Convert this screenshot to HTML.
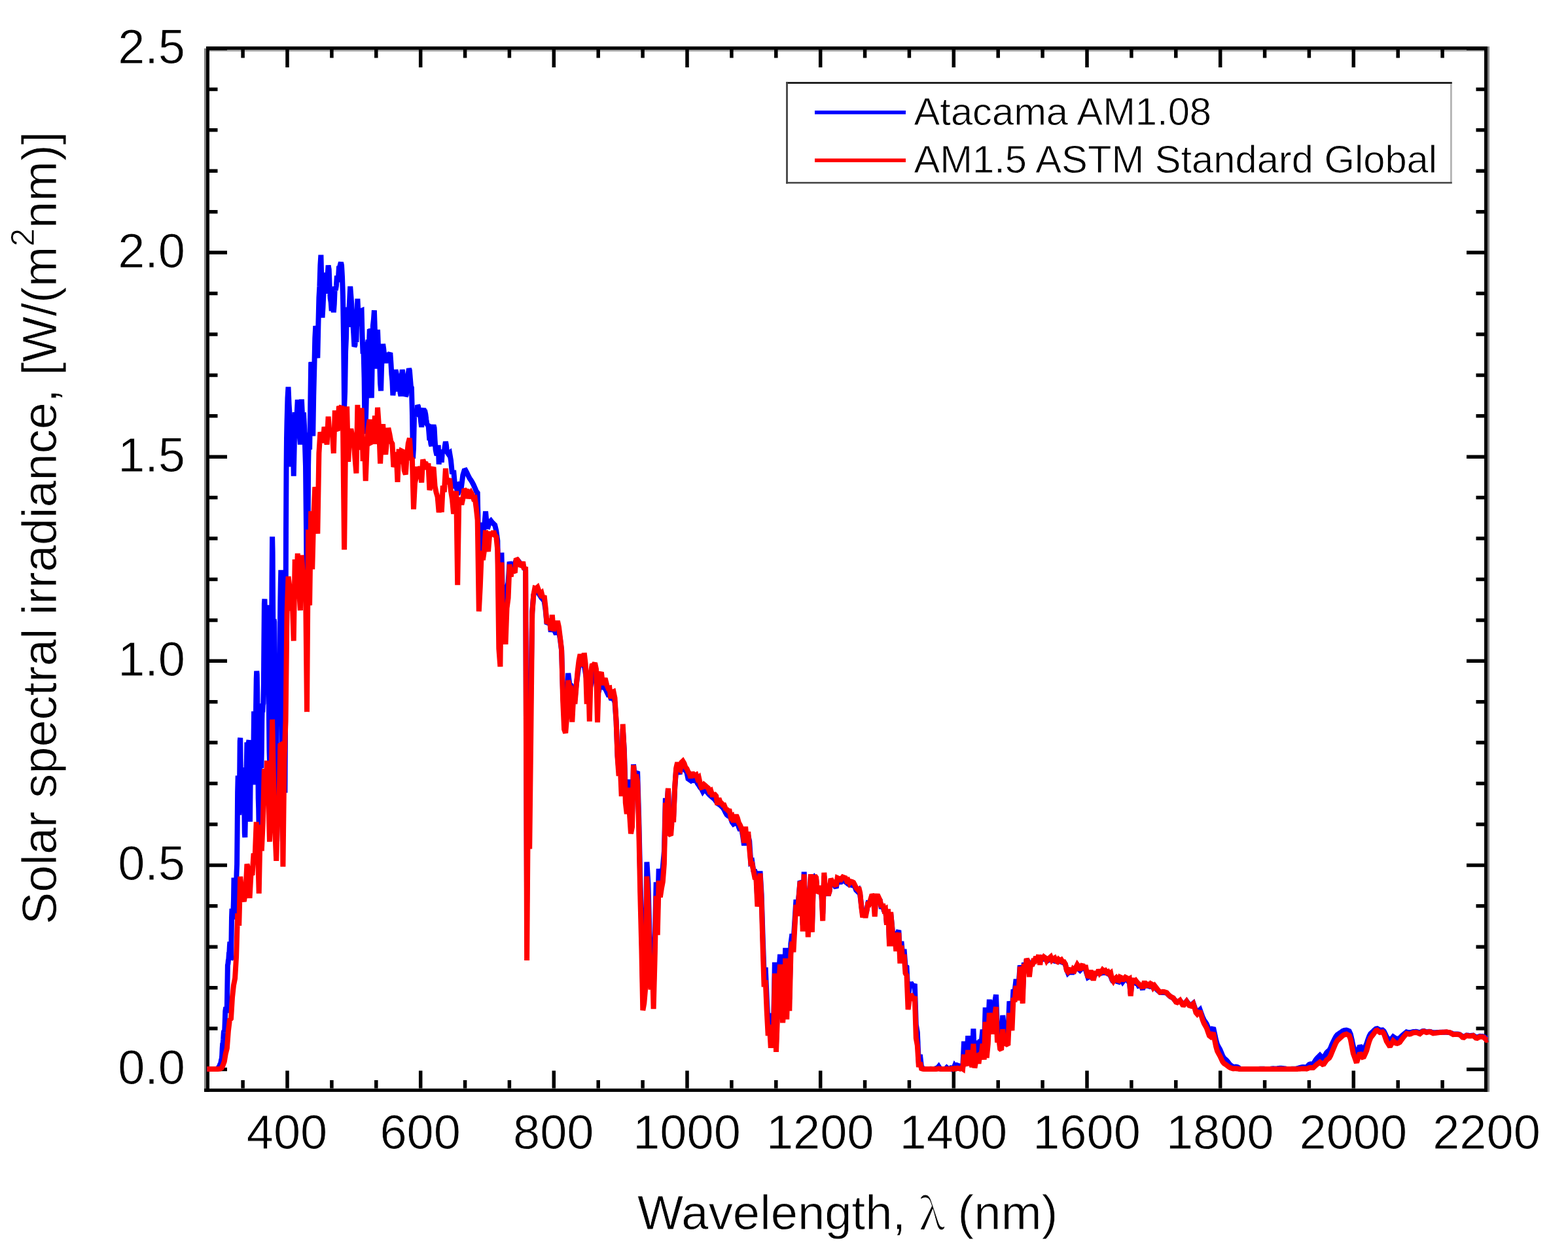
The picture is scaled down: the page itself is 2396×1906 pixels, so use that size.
<!DOCTYPE html>
<html><head><meta charset="utf-8"><title>Solar spectral irradiance</title><style>
html,body{margin:0;padding:0;background:#fff;}
body{width:2396px;height:1906px;overflow:hidden;}
svg{display:block;}
text{font-family:"Liberation Sans",Arial,sans-serif;fill:#000;stroke:#fff;stroke-width:0.8px;stroke-linejoin:round;}
</style></head><body>
<svg width="2396" height="1906" viewBox="0 0 2396 1906">
<rect width="2396" height="1906" fill="#fff"/>
<defs><clipPath id="pc"><rect x="312" y="71" width="1964" height="1598"/></clipPath></defs>
<rect x="315" y="71" width="5" height="1598" fill="#000"/><rect x="312" y="74" width="3" height="1595" fill="#808080"/><rect x="315" y="71" width="1958" height="5" fill="#000"/><rect x="320" y="76" width="1948" height="2.6" fill="#a0a0a0"/><rect x="2268" y="71" width="5" height="1598" fill="#000"/><rect x="2273" y="71" width="3" height="1598" fill="#888"/><rect x="312" y="1663.8" width="1961" height="5.1" fill="#000"/>
<path d="M439.0 1663.5V1636.5M439.0 76.0V103.0M642.7 1663.5V1636.5M642.7 76.0V103.0M846.3 1663.5V1636.5M846.3 76.0V103.0M1050.0 1663.5V1636.5M1050.0 76.0V103.0M1253.7 1663.5V1636.5M1253.7 76.0V103.0M1457.3 1663.5V1636.5M1457.3 76.0V103.0M1661.0 1663.5V1636.5M1661.0 76.0V103.0M1864.7 1663.5V1636.5M1864.7 76.0V103.0M2068.3 1663.5V1636.5M2068.3 76.0V103.0M371.1 1663.5V1651.0M371.1 76.0V88.5M506.9 1663.5V1651.0M506.9 76.0V88.5M574.8 1663.5V1651.0M574.8 76.0V88.5M710.6 1663.5V1651.0M710.6 76.0V88.5M778.4 1663.5V1651.0M778.4 76.0V88.5M914.2 1663.5V1651.0M914.2 76.0V88.5M982.1 1663.5V1651.0M982.1 76.0V88.5M1117.9 1663.5V1651.0M1117.9 76.0V88.5M1185.8 1663.5V1651.0M1185.8 76.0V88.5M1321.6 1663.5V1651.0M1321.6 76.0V88.5M1389.4 1663.5V1651.0M1389.4 76.0V88.5M1525.2 1663.5V1651.0M1525.2 76.0V88.5M1593.1 1663.5V1651.0M1593.1 76.0V88.5M1728.9 1663.5V1651.0M1728.9 76.0V88.5M1796.8 1663.5V1651.0M1796.8 76.0V88.5M1932.6 1663.5V1651.0M1932.6 76.0V88.5M2000.4 1663.5V1651.0M2000.4 76.0V88.5M2136.2 1663.5V1651.0M2136.2 76.0V88.5M2204.1 1663.5V1651.0M2204.1 76.0V88.5M320.0 1634.5H347.0M2268.0 1634.5H2241.0M320.0 1572.1H332.5M2268.0 1572.1H2255.5M320.0 1509.7H332.5M2268.0 1509.7H2255.5M320.0 1447.2H332.5M2268.0 1447.2H2255.5M320.0 1384.8H332.5M2268.0 1384.8H2255.5M320.0 1322.4H347.0M2268.0 1322.4H2241.0M320.0 1260.0H332.5M2268.0 1260.0H2255.5M320.0 1197.6H332.5M2268.0 1197.6H2255.5M320.0 1135.1H332.5M2268.0 1135.1H2255.5M320.0 1072.7H332.5M2268.0 1072.7H2255.5M320.0 1010.3H347.0M2268.0 1010.3H2241.0M320.0 947.9H332.5M2268.0 947.9H2255.5M320.0 885.5H332.5M2268.0 885.5H2255.5M320.0 823.0H332.5M2268.0 823.0H2255.5M320.0 760.6H332.5M2268.0 760.6H2255.5M320.0 698.2H347.0M2268.0 698.2H2241.0M320.0 635.8H332.5M2268.0 635.8H2255.5M320.0 573.4H332.5M2268.0 573.4H2255.5M320.0 510.9H332.5M2268.0 510.9H2255.5M320.0 448.5H332.5M2268.0 448.5H2255.5M320.0 386.1H347.0M2268.0 386.1H2241.0M320.0 323.7H332.5M2268.0 323.7H2255.5M320.0 261.3H332.5M2268.0 261.3H2255.5M320.0 198.8H332.5M2268.0 198.8H2255.5M320.0 136.4H332.5M2268.0 136.4H2255.5M320.0 74.0H347.0M2268.0 74.0H2241.0" stroke="#000" stroke-width="5.5" fill="none"/>
<g clip-path="url(#pc)" fill="none" stroke-width="8" stroke-linejoin="miter" stroke-miterlimit="2">
<polyline stroke="#0000ff" points="316.3,1634.0 316.8,1634.0 317.3,1634.0 317.8,1634.0 318.3,1634.0 318.8,1634.0 319.4,1634.0 319.9,1634.0 320.4,1634.0 320.9,1634.0 321.4,1634.0 321.9,1634.0 322.4,1634.0 322.9,1634.0 323.4,1634.0 323.9,1634.0 324.4,1634.0 325.0,1634.0 325.5,1634.0 326.0,1634.0 326.5,1634.0 327.0,1634.0 327.5,1634.0 328.0,1634.0 328.5,1634.0 329.0,1634.0 329.5,1633.9 330.0,1633.9 330.6,1633.8 331.1,1633.7 331.6,1633.6 332.1,1633.2 332.6,1632.9 333.1,1632.6 333.6,1632.3 334.1,1631.3 334.6,1630.4 335.1,1630.0 335.6,1629.1 336.2,1626.9 336.7,1626.3 337.2,1625.5 337.7,1622.5 338.2,1619.7 338.7,1618.8 339.2,1613.2 339.7,1602.3 340.2,1595.6 340.7,1594.8 341.2,1588.6 341.8,1578.2 342.3,1575.3 342.8,1578.1 343.3,1574.1 343.8,1560.4 344.3,1545.5 344.8,1542.1 345.3,1539.4 345.8,1547.2 346.3,1548.1 346.9,1536.2 347.4,1507.0 347.9,1475.3 348.4,1473.1 348.9,1467.6 349.4,1465.7 349.9,1457.1 350.4,1456.5 350.9,1446.1 351.4,1439.5 351.9,1441.6 352.5,1466.5 353.0,1465.6 353.5,1435.7 354.0,1402.7 354.5,1388.9 355.0,1401.9 355.5,1403.0 356.0,1388.9 356.5,1390.3 357.0,1374.9 357.5,1341.6 358.1,1345.9 358.6,1365.4 359.1,1383.7 359.6,1395.1 360.1,1405.3 360.6,1379.5 361.1,1350.3 361.6,1332.6 362.1,1321.1 362.6,1269.7 363.1,1211.4 363.7,1185.7 364.2,1195.7 364.7,1213.4 365.2,1245.6 365.7,1232.0 366.2,1183.6 366.7,1132.7 367.2,1127.7 367.7,1171.0 368.2,1202.2 368.7,1198.2 369.3,1188.8 369.8,1191.3 370.3,1204.2 370.8,1221.5 371.3,1213.8 371.8,1187.0 372.3,1173.1 372.8,1191.9 373.3,1236.6 373.8,1273.6 374.3,1279.9 374.9,1252.6 375.4,1216.9 375.9,1193.4 376.4,1180.9 376.9,1162.8 377.4,1134.6 377.9,1137.5 378.4,1168.8 378.9,1176.0 379.4,1156.3 379.9,1134.8 380.5,1131.2 381.0,1170.1 381.5,1238.5 382.0,1256.0 382.5,1208.4 383.0,1174.5 383.5,1177.8 384.0,1172.2 384.5,1168.4 385.0,1183.3 385.5,1188.4 386.1,1187.1 386.6,1199.3 387.1,1183.0 387.6,1129.3 388.1,1087.2 388.6,1097.8 389.1,1124.0 389.6,1147.3 390.1,1169.8 390.6,1139.4 391.1,1080.4 391.7,1038.1 392.2,1025.6 392.7,1030.8 393.2,1060.5 393.7,1107.6 394.2,1160.3 394.7,1220.0 395.2,1236.1 395.7,1267.9 396.2,1285.3 396.7,1217.2 397.3,1116.1 397.8,1075.3 398.3,1108.5 398.8,1158.4 399.3,1174.1 399.8,1148.1 400.3,1099.2 400.8,1080.0 401.3,1088.5 401.8,1077.8 402.3,1075.1 402.9,1044.9 403.4,977.3 403.9,922.4 404.4,915.6 404.9,932.9 405.4,959.5 405.9,1000.6 406.4,1008.6 406.9,975.7 407.4,926.9 408.0,924.9 408.5,980.6 409.0,984.6 409.5,974.5 410.0,1014.0 410.5,1056.3 411.0,1096.8 411.5,1148.1 412.0,1163.4 412.5,1159.2 413.0,1120.9 413.6,1064.0 414.1,1033.0 414.6,1019.2 415.1,964.5 415.6,879.0 416.1,820.4 416.6,844.0 417.1,929.7 417.6,995.2 418.1,982.9 418.6,946.6 419.2,950.5 419.7,1025.5 420.2,1128.9 420.7,1214.9 421.2,1266.2 421.7,1269.7 422.2,1213.7 422.7,1129.9 423.2,1076.6 423.7,1077.4 424.2,1087.8 424.8,1081.8 425.3,1078.7 425.8,1083.9 426.3,1087.4 426.8,1074.5 427.3,1028.7 427.8,968.3 428.3,922.6 428.8,893.3 429.3,871.3 429.8,888.3 430.4,971.5 430.9,1105.8 431.4,1235.0 431.9,1286.0 432.4,1229.3 432.9,1108.1 433.4,1004.1 433.9,983.9 434.4,1064.5 434.9,1176.3 435.4,1211.8 436.0,1123.2 436.5,962.9 437.0,813.6 437.5,718.2 438.0,670.0 438.5,645.3 439.5,608.3 440.5,591.4 441.6,617.7 442.6,634.0 443.6,664.5 444.6,700.2 445.6,713.3 446.6,679.2 447.7,666.1 448.7,727.7 449.7,683.1 450.7,630.0 451.7,645.2 452.8,654.8 453.8,630.2 454.8,610.9 455.8,632.1 456.8,660.1 457.8,667.1 458.9,679.4 459.9,624.3 460.9,610.5 461.9,632.7 462.9,638.0 464.0,630.4 465.0,650.8 466.0,680.5 467.0,712.6 468.0,808.4 469.0,939.7 470.1,919.9 471.1,711.2 472.1,661.4 473.1,687.1 474.1,631.3 475.2,553.5 476.2,555.3 477.2,639.9 478.2,666.5 479.2,605.6 480.3,561.9 481.3,516.8 482.3,498.1 483.3,505.9 484.3,521.4 485.3,547.4 486.4,495.3 487.4,455.1 488.4,437.5 489.4,405.7 490.4,389.7 491.5,435.1 492.5,485.5 493.5,469.6 494.5,447.6 495.5,423.9 496.5,416.8 497.6,433.0 498.6,447.6 499.6,445.6 500.6,421.8 501.6,405.6 502.7,411.6 503.7,438.4 504.7,456.0 505.7,462.2 506.7,475.3 507.7,461.3 508.8,459.8 509.8,477.4 510.8,464.3 511.8,438.0 512.8,443.7 513.9,436.8 514.9,421.6 515.9,430.6 516.9,426.1 517.9,409.3 518.9,408.8 520.0,404.0 521.0,401.2 522.0,405.6 523.0,423.2 524.0,453.9 525.1,523.5 526.1,623.9 527.1,598.1 528.1,537.3 529.1,514.8 530.1,469.5 531.2,478.3 532.2,499.9 533.2,477.1 534.2,458.3 535.2,437.7 536.3,452.1 537.3,465.1 538.3,483.2 539.3,495.6 540.3,509.7 541.4,529.8 542.4,527.7 543.4,514.3 544.4,522.8 545.4,485.1 546.4,456.7 547.5,479.9 548.5,498.3 549.5,486.4 550.5,485.7 551.5,475.3 552.6,474.8 553.6,515.1 554.6,540.6 555.6,538.1 556.6,578.9 557.6,663.3 558.7,649.0 559.7,614.1 560.7,559.6 561.7,525.1 562.7,519.7 563.8,529.6 564.8,503.5 565.8,504.4 566.8,557.1 567.8,608.3 568.8,552.3 569.9,497.6 570.9,488.8 571.9,474.3 572.9,505.4 573.9,563.4 575.0,550.2 576.0,516.2 577.0,503.8 578.0,529.2 579.0,530.8 580.0,549.3 581.1,585.9 582.1,597.5 583.1,561.0 584.1,538.6 585.1,525.8 586.2,533.0 587.2,543.1 588.2,546.8 589.2,554.9 590.2,547.2 591.2,545.2 592.3,543.1 593.3,539.1 594.3,546.2 595.3,540.9 596.3,539.2 597.4,555.0 598.4,572.1 599.4,582.3 600.4,604.3 601.4,593.9 602.5,568.0 603.5,571.4 604.5,565.5 605.5,569.4 606.5,583.5 607.5,598.5 608.6,577.1 609.6,571.2 610.6,587.9 611.6,601.0 612.6,605.5 613.7,581.3 614.7,565.1 615.7,571.8 616.7,589.7 617.7,596.7 618.7,595.2 619.8,605.7 620.8,603.6 621.8,591.9 622.8,582.6 623.8,571.0 624.9,563.2 625.9,566.2 626.9,578.8 627.9,590.7 628.9,592.5 629.9,630.6 631.0,701.1 632.0,685.1 633.0,637.1 634.0,633.9 635.0,626.6 636.1,631.1 637.1,637.0 638.1,619.2 639.1,621.2 640.1,628.2 641.1,633.6 642.2,635.0 643.2,645.2 644.2,652.8 645.2,640.9 646.2,627.1 647.3,624.9 648.3,627.5 649.3,628.5 650.3,633.1 651.3,641.1 652.3,647.8 653.4,649.5 654.4,648.4 655.4,660.3 656.4,673.0 657.4,670.0 658.5,678.9 659.5,681.8 660.5,665.0 661.5,653.1 662.5,649.6 663.6,654.2 664.6,672.9 665.6,687.3 666.6,692.3 667.6,695.9 668.6,692.2 669.7,680.4 670.7,709.7 671.7,689.9 672.7,699.8 673.7,700.0 674.8,706.7 675.8,692.5 676.8,687.6 677.8,689.7 678.8,690.7 679.8,681.7 680.9,675.1 681.9,680.4 682.9,690.5 684.9,693.5 687.0,692.0 689.0,703.9 691.0,724.4 693.1,718.9 695.1,742.1 697.2,741.4 699.2,755.8 701.2,751.6 703.3,741.0 705.3,741.9 707.3,726.4 709.4,719.4 711.4,718.8 713.4,722.5 715.5,727.1 717.5,730.9 719.6,734.0 721.6,737.3 723.6,741.1 725.7,745.8 727.7,750.6 729.7,753.3 731.8,863.7 733.8,840.3 735.9,798.8 737.9,815.1 739.9,806.6 742.0,781.7 744.0,804.0 746.0,804.7 748.1,797.7 750.1,795.9 752.1,798.4 754.2,800.6 756.2,802.6 758.3,811.3 760.3,826.3 762.3,933.1 764.4,953.3 766.4,844.7 768.4,927.7 770.5,913.8 772.5,935.9 774.5,900.0 776.6,890.0 778.6,858.8 780.7,865.6 782.7,860.7 784.7,863.9 786.8,860.4 788.8,856.9 790.8,855.9 792.9,858.3 794.9,861.6 797.0,863.7 799.0,865.2 801.0,867.8 803.1,871.8 805.1,1379.8 807.1,1131.4 809.2,1219.8 811.2,1062.8 813.2,934.9 815.3,909.4 817.3,902.8 819.4,903.4 821.4,904.7 823.4,907.4 825.5,910.8 827.5,913.9 829.5,915.9 831.6,918.9 833.6,932.2 835.6,954.0 837.7,951.7 839.7,946.1 841.8,965.9 843.8,950.6 845.8,960.7 847.9,965.4 849.9,969.4 851.9,962.0 854.0,965.6 856.0,977.2 858.1,994.1 860.1,1058.7 862.1,1095.3 864.2,1099.7 866.2,1080.5 868.2,1029.0 870.3,1044.8 872.3,1047.2 874.3,1092.7 876.4,1054.7 878.4,1070.0 880.5,1046.9 882.5,1032.7 884.5,1017.3 886.6,1009.4 888.6,1013.7 890.6,1016.6 892.7,1017.0 894.7,1028.8 896.7,1041.0 898.8,1052.0 900.8,1057.6 902.9,1046.3 904.9,1030.9 906.9,1024.6 909.0,1027.6 911.0,1041.4 913.0,1057.1 915.1,1055.9 917.1,1047.6 919.2,1046.2 921.2,1049.7 923.2,1051.5 925.3,1053.4 927.3,1057.8 929.3,1061.9 931.4,1061.6 933.4,1067.2 935.4,1067.5 937.5,1067.7 939.5,1073.6 941.6,1102.2 943.6,1155.1 945.6,1177.6 947.7,1164.8 949.7,1191.8 951.7,1113.8 953.8,1144.8 955.8,1212.8 957.8,1228.1 959.9,1191.4 961.9,1229.3 964.0,1256.7 966.0,1247.1 968.0,1168.3 970.1,1188.1 972.1,1181.7 974.1,1179.2 976.2,1250.8 978.2,1338.9 980.3,1416.8 982.3,1518.8 984.3,1505.9 986.4,1482.1 988.4,1317.6 990.4,1349.8 992.5,1426.3 994.5,1485.9 996.5,1435.5 998.6,1517.0 1000.6,1439.8 1002.7,1348.3 1004.7,1403.2 1006.7,1327.8 1008.8,1349.3 1010.8,1337.7 1012.8,1325.7 1014.9,1301.3 1016.9,1219.8 1018.9,1233.1 1021.0,1205.4 1023.0,1260.3 1025.1,1268.1 1027.1,1244.2 1029.1,1248.8 1031.2,1203.7 1033.2,1176.4 1035.2,1170.5 1037.3,1180.4 1039.3,1180.1 1041.4,1171.4 1043.4,1172.1 1045.4,1175.1 1047.5,1177.7 1049.5,1180.9 1051.5,1190.3 1053.6,1191.8 1055.6,1193.2 1057.6,1191.1 1059.7,1192.8 1061.7,1192.3 1063.8,1193.4 1065.8,1197.4 1067.8,1200.1 1069.9,1203.5 1071.9,1205.7 1073.9,1209.7 1076.0,1206.7 1078.0,1208.6 1080.0,1210.0 1082.1,1212.7 1084.1,1214.8 1086.2,1216.8 1088.2,1218.5 1090.2,1220.2 1092.3,1222.2 1094.3,1225.1 1096.3,1228.0 1098.4,1229.1 1100.4,1230.6 1102.5,1232.5 1104.5,1234.6 1106.5,1237.5 1108.6,1241.8 1110.6,1245.4 1112.6,1246.9 1114.7,1247.8 1116.7,1250.9 1118.7,1256.7 1120.8,1259.6 1122.8,1258.5 1124.9,1255.0 1126.9,1256.3 1128.9,1264.3 1131.0,1269.1 1133.0,1265.5 1135.0,1277.6 1137.1,1292.3 1139.1,1269.1 1141.1,1289.1 1143.2,1276.8 1145.2,1285.5 1147.3,1318.2 1149.3,1316.9 1151.3,1330.3 1153.4,1331.2 1155.4,1337.0 1157.4,1374.8 1159.5,1364.7 1161.5,1331.5 1163.6,1366.6 1165.6,1431.3 1167.6,1488.2 1169.7,1478.6 1171.7,1525.8 1173.7,1567.1 1175.8,1548.7 1177.8,1587.7 1179.8,1555.2 1181.9,1574.5 1183.9,1470.8 1186.0,1596.1 1188.0,1536.3 1190.0,1486.7 1192.1,1458.7 1194.1,1477.2 1196.1,1545.0 1198.2,1517.7 1200.2,1448.8 1202.2,1540.2 1204.3,1461.8 1206.3,1527.3 1208.4,1442.6 1210.4,1427.6 1212.4,1439.6 1214.5,1406.0 1216.5,1375.0 1218.5,1388.6 1220.6,1369.8 1222.6,1346.6 1224.7,1349.7 1226.7,1414.1 1228.7,1332.5 1230.8,1399.9 1232.8,1359.2 1234.8,1423.0 1236.9,1368.7 1238.9,1340.2 1240.9,1416.0 1243.0,1345.7 1245.0,1341.4 1247.1,1343.9 1249.1,1364.0 1251.1,1359.7 1253.2,1356.2 1255.2,1364.6 1257.2,1396.7 1259.3,1339.3 1261.3,1362.8 1263.3,1355.6 1265.4,1368.9 1267.4,1362.5 1269.5,1345.6 1271.5,1349.3 1273.5,1350.5 1275.6,1353.9 1277.6,1357.2 1279.6,1347.1 1281.7,1346.1 1283.7,1350.6 1285.8,1345.4 1287.8,1345.4 1289.8,1346.5 1291.9,1347.9 1293.9,1349.5 1295.9,1351.1 1298.0,1352.4 1300.0,1352.4 1302.0,1353.2 1304.1,1353.6 1306.1,1354.8 1308.2,1360.6 1310.2,1362.5 1312.2,1360.6 1314.3,1368.3 1316.3,1384.5 1318.3,1398.4 1320.4,1394.0 1322.4,1398.0 1324.4,1391.7 1326.5,1379.9 1328.5,1380.0 1330.6,1376.4 1332.6,1372.4 1334.6,1379.0 1336.7,1379.9 1338.7,1379.4 1340.7,1373.2 1342.8,1375.6 1344.8,1376.6 1346.9,1388.9 1348.9,1382.3 1350.9,1392.9 1353.0,1389.2 1355.0,1412.4 1357.0,1390.6 1359.1,1439.1 1361.1,1395.9 1363.1,1415.4 1365.2,1440.5 1367.2,1423.6 1369.3,1449.1 1371.3,1426.7 1373.3,1421.9 1375.4,1463.2 1377.4,1438.9 1379.4,1460.6 1381.5,1450.8 1383.5,1476.1 1385.5,1477.9 1387.6,1523.5 1389.6,1511.1 1391.7,1501.8 1393.7,1504.9 1395.7,1508.6 1397.8,1504.0 1399.8,1566.1 1401.8,1577.6 1403.9,1625.4 1405.9,1612.0 1408.0,1630.2 1410.0,1632.8 1412.0,1633.7 1414.1,1633.9 1416.1,1634.0 1418.1,1634.0 1420.2,1634.0 1422.2,1633.8 1424.2,1634.0 1426.3,1634.0 1428.3,1633.9 1430.4,1632.9 1432.4,1632.6 1434.4,1630.1 1436.5,1633.4 1438.5,1633.9 1440.5,1634.0 1442.6,1633.9 1444.6,1633.9 1446.6,1631.8 1448.7,1633.7 1450.7,1633.4 1452.8,1634.0 1454.8,1629.9 1456.8,1634.0 1458.9,1628.7 1460.9,1631.2 1462.9,1628.3 1465.0,1629.1 1467.0,1632.0 1469.0,1627.1 1471.1,1632.3 1473.1,1591.6 1475.2,1612.8 1477.2,1619.0 1479.2,1583.2 1481.3,1609.2 1483.3,1598.7 1485.3,1624.4 1487.4,1572.3 1489.4,1627.8 1491.5,1605.5 1493.5,1590.5 1495.5,1613.8 1497.6,1589.1 1499.6,1592.5 1501.6,1573.7 1503.7,1604.4 1505.7,1539.9 1507.7,1600.7 1509.8,1573.7 1511.8,1527.7 1513.9,1556.3 1515.9,1529.1 1517.9,1559.1 1520.0,1532.0 1522.0,1520.3 1524.0,1572.5 1526.1,1564.9 1528.1,1584.5 1530.1,1586.6 1532.2,1551.9 1534.2,1571.6 1536.3,1574.9 1538.3,1577.5 1540.3,1579.1 1542.4,1530.5 1544.4,1539.8 1546.4,1550.3 1548.5,1512.5 1550.5,1515.8 1552.6,1496.8 1554.6,1512.4 1556.6,1504.2 1558.7,1475.5 1560.7,1485.6 1562.7,1520.5 1564.8,1471.4 1566.8,1478.8 1568.8,1466.2 1570.9,1469.2 1572.9,1485.9 1575.0,1472.0 1577.0,1475.7 1579.0,1469.9 1581.1,1467.8 1583.1,1464.5 1585.1,1468.9 1587.2,1463.6 1589.2,1468.2 1591.2,1464.4 1593.3,1465.8 1595.3,1465.9 1597.4,1464.8 1599.4,1467.1 1601.4,1468.1 1603.5,1467.1 1605.5,1466.4 1607.5,1466.7 1609.6,1467.4 1611.6,1469.0 1613.7,1469.2 1615.7,1469.7 1617.7,1469.6 1619.8,1469.5 1621.8,1470.3 1623.8,1471.0 1625.9,1471.9 1627.9,1474.0 1629.9,1482.0 1632.0,1487.4 1634.0,1485.6 1636.1,1484.4 1638.1,1488.2 1640.1,1484.6 1642.2,1481.3 1644.2,1478.6 1646.2,1478.8 1648.3,1481.3 1650.3,1483.1 1652.3,1481.0 1654.4,1478.7 1656.4,1479.1 1658.5,1480.8 1660.5,1487.9 1662.5,1493.9 1664.6,1492.7 1666.6,1485.1 1668.6,1493.4 1670.7,1493.2 1672.7,1490.8 1674.8,1488.1 1676.8,1487.6 1678.8,1487.4 1680.9,1487.6 1682.9,1487.5 1684.9,1486.8 1687.0,1486.5 1689.0,1486.7 1691.0,1487.1 1693.1,1488.4 1695.1,1489.3 1697.2,1492.0 1699.2,1497.5 1701.2,1500.9 1703.3,1497.0 1705.3,1495.9 1707.3,1500.2 1709.4,1500.8 1711.4,1496.4 1713.4,1497.2 1715.5,1500.8 1717.5,1498.1 1719.6,1496.1 1721.6,1496.6 1723.6,1499.3 1725.7,1498.4 1727.7,1519.9 1729.7,1500.2 1731.8,1499.9 1733.8,1500.7 1735.9,1502.8 1737.9,1502.7 1739.9,1506.9 1742.0,1506.4 1744.0,1506.7 1746.0,1512.6 1748.1,1504.5 1750.1,1505.0 1752.1,1506.4 1754.2,1507.0 1756.2,1507.6 1758.3,1505.4 1760.3,1506.8 1762.3,1510.0 1764.4,1508.4 1766.4,1510.9 1768.4,1513.1 1770.5,1515.1 1772.5,1516.7 1774.5,1516.9 1776.6,1516.8 1778.6,1517.0 1780.7,1517.3 1782.7,1517.8 1784.7,1519.9 1786.8,1522.0 1788.8,1523.5 1790.8,1524.5 1792.9,1525.9 1794.9,1528.3 1797.0,1530.5 1799.0,1531.2 1801.0,1530.5 1803.1,1529.7 1805.1,1531.9 1807.1,1534.6 1809.2,1534.9 1811.2,1532.7 1813.2,1530.3 1815.3,1533.1 1817.3,1535.9 1819.4,1536.5 1821.4,1535.0 1823.4,1533.4 1825.5,1539.3 1827.5,1545.2 1829.5,1547.1 1831.6,1545.1 1833.6,1543.3 1835.6,1548.9 1837.7,1554.6 1839.7,1559.0 1841.8,1562.0 1843.8,1565.1 1845.8,1570.1 1847.9,1575.2 1849.9,1576.3 1851.9,1573.4 1854.0,1570.5 1856.0,1579.8 1858.1,1589.6 1860.1,1596.6 1862.1,1600.3 1864.2,1604.1 1866.2,1608.8 1868.2,1613.8 1870.3,1617.3 1872.3,1619.0 1874.3,1620.8 1876.4,1623.2 1878.4,1626.0 1880.5,1628.2 1882.5,1629.5 1884.5,1631.1 1886.6,1630.8 1888.6,1630.5 1890.6,1630.8 1892.7,1631.9 1894.7,1633.9 1896.7,1633.9 1898.8,1633.9 1900.8,1633.9 1902.9,1633.9 1904.9,1634.0 1906.9,1633.9 1909.0,1633.9 1911.0,1633.9 1913.0,1633.9 1915.1,1633.9 1917.1,1633.9 1919.2,1634.0 1921.2,1633.9 1923.2,1633.9 1925.3,1633.8 1927.3,1633.8 1929.3,1633.8 1931.4,1633.8 1933.4,1633.9 1935.4,1634.0 1937.5,1634.0 1939.5,1634.0 1941.6,1633.8 1943.6,1633.5 1945.6,1633.3 1947.7,1633.4 1949.7,1633.5 1951.7,1633.3 1953.8,1633.0 1955.8,1632.7 1957.8,1632.8 1959.9,1633.0 1961.9,1633.2 1964.0,1633.5 1966.0,1634.0 1968.0,1634.0 1970.1,1634.0 1972.1,1633.9 1974.1,1633.8 1976.2,1633.7 1978.2,1633.7 1980.3,1633.7 1982.3,1633.2 1984.3,1632.5 1986.4,1631.9 1988.4,1631.4 1990.4,1630.9 1992.5,1630.9 1994.5,1631.3 1996.5,1631.7 1998.6,1629.0 2000.6,1627.0 2002.7,1626.2 2004.7,1626.4 2006.7,1626.7 2008.8,1622.8 2010.8,1619.6 2012.8,1617.1 2014.9,1615.0 2016.9,1613.0 2018.9,1615.2 2021.0,1617.6 2023.0,1616.6 2025.1,1612.5 2027.1,1608.9 2029.1,1607.0 2031.2,1605.2 2033.2,1601.7 2035.2,1596.7 2037.3,1592.2 2039.3,1588.0 2041.4,1584.2 2043.4,1581.6 2045.4,1580.2 2047.5,1578.8 2049.5,1577.5 2051.5,1576.1 2053.6,1575.2 2055.6,1574.8 2057.6,1574.5 2059.7,1575.3 2061.7,1576.1 2063.8,1580.7 2065.8,1589.4 2067.8,1599.0 2069.9,1604.8 2071.9,1611.3 2073.9,1611.1 2076.0,1604.3 2078.0,1598.2 2080.0,1601.4 2082.1,1604.7 2084.1,1604.1 2086.2,1599.7 2088.2,1595.5 2090.2,1589.4 2092.3,1583.7 2094.3,1580.0 2096.3,1578.1 2098.4,1576.2 2100.4,1574.3 2102.5,1572.5 2104.5,1572.2 2106.5,1573.4 2108.6,1574.5 2110.6,1574.4 2112.6,1574.3 2114.7,1576.2 2116.7,1580.3 2118.7,1584.7 2120.8,1587.3 2122.8,1589.9 2124.9,1589.9 2126.9,1587.2 2128.9,1584.6 2131.0,1586.0 2133.0,1587.5 2135.0,1587.9 2137.1,1587.2 2139.1,1586.5 2141.1,1584.4 2143.2,1582.3 2145.2,1580.5 2147.3,1579.0 2149.3,1577.4 2151.3,1577.8 2153.4,1578.2 2155.4,1578.1 2157.4,1577.5 2159.5,1577.0 2161.5,1576.9 2163.6,1576.8 2165.6,1577.1 2167.6,1577.8 2169.7,1578.5 2171.7,1577.3 2173.7,1576.2 2175.8,1575.9 2177.8,1576.6 2179.8,1577.2 2181.9,1577.0 2183.9,1576.7 2186.0,1577.0 2188.0,1577.7 2190.0,1578.4 2192.1,1578.3 2194.1,1578.2 2196.1,1578.0 2198.2,1577.9 2200.2,1577.8 2202.2,1577.8 2204.3,1577.8 2206.3,1577.7 2208.4,1577.7 2210.4,1577.7 2212.4,1577.9 2214.5,1578.1 2216.5,1578.7 2218.5,1579.5 2220.6,1580.4 2222.6,1580.4 2224.7,1580.4 2226.7,1580.6 2228.7,1580.8 2230.8,1581.4 2232.8,1582.7 2234.8,1584.1 2236.9,1584.4 2238.9,1583.6 2240.9,1582.6 2243.0,1582.6 2245.0,1582.9 2247.1,1582.9 2249.1,1582.7 2251.1,1582.5 2253.2,1583.8 2255.2,1585.0 2257.2,1585.3 2259.3,1584.6 2261.3,1583.8 2263.3,1584.0 2265.4,1584.0 2267.4,1584.7 2269.5,1586.0 2271.5,1587.5 2273.5,1587.1"/>
<polyline stroke="#ff0000" points="316.3,1634.0 318.3,1634.0 320.4,1634.0 322.4,1634.0 324.4,1634.0 326.5,1634.0 328.5,1634.0 330.6,1634.0 332.6,1634.0 334.6,1633.8 336.7,1633.4 338.7,1632.2 340.7,1628.1 342.8,1622.4 344.8,1610.4 346.9,1602.2 348.9,1575.7 350.9,1559.3 353.0,1556.9 355.0,1524.2 357.0,1505.9 359.1,1495.4 361.1,1462.1 363.1,1396.1 365.2,1414.8 367.2,1339.8 369.3,1361.7 371.3,1375.0 373.3,1374.8 375.4,1363.0 377.4,1320.8 379.4,1328.6 381.5,1372.8 383.5,1335.8 385.5,1337.4 387.6,1304.4 389.6,1310.7 391.7,1256.4 393.7,1288.3 395.7,1365.6 397.8,1260.6 399.8,1300.6 401.8,1255.6 403.9,1175.0 405.9,1217.3 408.0,1162.7 410.0,1213.0 412.0,1286.7 414.1,1212.8 416.1,1099.7 418.1,1196.6 420.2,1267.7 422.2,1315.9 424.2,1246.4 426.3,1237.1 428.3,1136.5 430.4,1137.8 432.4,1324.6 434.4,1161.8 436.5,1101.9 438.5,938.6 440.5,881.2 442.6,897.4 444.6,933.2 446.6,915.3 448.7,979.5 450.7,855.1 452.8,894.8 454.8,846.0 456.8,898.9 458.9,932.9 460.9,848.6 462.9,877.7 465.0,876.5 467.0,895.0 469.0,1088.1 471.1,809.6 473.1,925.4 475.2,781.4 477.2,870.1 479.2,791.4 481.3,744.5 483.3,754.9 485.3,815.8 487.4,692.6 489.4,660.6 491.5,667.6 493.5,676.8 495.5,652.5 497.6,665.6 499.6,679.5 501.6,636.8 503.7,663.7 505.7,655.7 507.7,659.1 509.8,692.9 511.8,627.4 513.9,655.8 515.9,658.3 517.9,620.9 520.0,624.0 522.0,620.5 524.0,651.9 526.1,840.3 528.1,671.9 530.1,621.3 532.2,705.9 534.2,664.9 536.3,655.5 538.3,665.9 540.3,669.5 542.4,699.8 544.4,723.5 546.4,618.8 548.5,687.4 550.5,667.7 552.6,623.7 554.6,704.9 556.6,669.3 558.7,735.0 560.7,683.0 562.7,654.6 564.8,641.2 566.8,676.4 568.8,675.4 570.9,669.9 572.9,635.4 575.0,678.8 577.0,622.9 579.0,651.6 581.1,708.6 583.1,665.8 585.1,648.3 587.2,679.5 589.2,694.6 591.2,672.8 593.3,654.2 595.3,663.4 597.4,674.9 599.4,678.3 601.4,713.9 603.5,707.3 605.5,691.1 607.5,736.8 609.6,686.5 611.6,709.2 613.7,689.3 615.7,690.3 617.7,719.3 619.8,725.2 621.8,696.5 623.8,677.7 625.9,669.7 627.9,700.6 629.9,701.8 632.0,778.3 634.0,738.0 636.1,729.5 638.1,713.6 640.1,722.2 642.2,713.1 644.2,737.6 646.2,702.6 648.3,708.8 650.3,706.3 652.3,717.3 654.4,708.2 656.4,749.1 658.5,740.8 660.5,718.7 662.5,714.0 664.6,743.3 666.6,752.8 668.6,759.4 670.7,783.2 672.7,764.9 674.8,782.7 676.8,742.4 678.8,752.1 680.9,716.0 682.9,738.9 684.9,736.7 687.0,731.3 689.0,750.8 691.0,763.1 693.1,785.5 695.1,768.2 697.2,750.6 699.2,894.3 701.2,769.2 703.3,760.6 705.3,771.4 707.3,762.2 709.4,747.4 711.4,750.8 713.4,747.9 715.5,761.9 717.5,755.5 719.6,752.6 721.6,756.0 723.6,762.1 725.7,761.3 727.7,776.4 729.7,795.2 731.8,934.5 733.8,896.1 735.9,842.0 737.9,856.0 739.9,842.3 742.0,810.6 744.0,833.6 746.0,842.9 748.1,817.7 750.1,813.6 752.1,819.5 754.2,811.6 756.2,818.1 758.3,820.7 760.3,840.3 762.3,991.3 764.4,1018.9 766.4,859.6 768.4,975.2 770.5,959.1 772.5,984.8 774.5,929.6 776.6,914.0 778.6,862.7 780.7,881.3 782.7,868.2 784.7,872.8 786.8,875.4 788.8,853.6 790.8,855.6 792.9,859.9 794.9,863.7 797.0,864.4 799.0,858.7 801.0,870.5 803.1,866.5 805.1,1467.9 807.1,1204.8 809.2,1297.7 811.2,1125.5 813.2,938.8 815.3,909.4 817.3,898.8 819.4,899.3 821.4,897.6 823.4,902.9 825.5,907.7 827.5,906.1 829.5,913.9 831.6,910.4 833.6,928.3 835.6,953.0 837.7,950.3 839.7,949.1 841.8,963.5 843.8,939.8 845.8,964.5 847.9,956.4 849.9,961.0 851.9,949.0 854.0,958.6 856.0,974.9 858.1,993.1 860.1,1070.0 862.1,1114.6 864.2,1120.5 866.2,1096.0 868.2,1040.0 870.3,1050.3 872.3,1051.1 874.3,1103.6 876.4,1062.2 878.4,1075.8 880.5,1050.9 882.5,1027.1 884.5,1010.4 886.6,1000.0 888.6,1011.7 890.6,1018.3 892.7,998.1 894.7,1014.7 896.7,1076.1 898.8,1029.0 900.8,1102.7 902.9,1026.5 904.9,1014.8 906.9,1017.2 909.0,1013.2 911.0,1022.8 913.0,1104.1 915.1,1035.3 917.1,1030.1 919.2,1030.5 921.2,1047.0 923.2,1039.3 925.3,1039.5 927.3,1047.5 929.3,1052.0 931.4,1051.6 933.4,1067.5 935.4,1058.3 937.5,1057.3 939.5,1066.7 941.6,1102.6 943.6,1158.0 945.6,1185.9 947.7,1170.5 949.7,1217.1 951.7,1106.8 953.8,1149.9 955.8,1226.9 957.8,1244.1 959.9,1204.0 961.9,1242.9 964.0,1274.2 966.0,1264.0 968.0,1169.5 970.1,1196.9 972.1,1183.6 974.1,1195.0 976.2,1265.9 978.2,1364.3 980.3,1446.2 982.3,1544.2 984.3,1533.2 986.4,1508.8 988.4,1339.5 990.4,1381.0 992.5,1455.6 994.5,1512.5 996.5,1462.8 998.6,1542.1 1000.6,1466.1 1002.7,1369.3 1004.7,1429.1 1006.7,1346.2 1008.8,1371.4 1010.8,1358.3 1012.8,1347.7 1014.9,1320.2 1016.9,1227.0 1018.9,1237.9 1021.0,1204.8 1023.0,1274.9 1025.1,1277.0 1027.1,1250.1 1029.1,1256.6 1031.2,1201.9 1033.2,1173.8 1035.2,1165.3 1037.3,1175.5 1039.3,1176.9 1041.4,1165.2 1043.4,1163.3 1045.4,1166.6 1047.5,1172.8 1049.5,1175.0 1051.5,1179.6 1053.6,1182.5 1055.6,1189.2 1057.6,1180.3 1059.7,1185.1 1061.7,1185.3 1063.8,1184.2 1065.8,1190.0 1067.8,1188.2 1069.9,1197.7 1071.9,1203.5 1073.9,1202.9 1076.0,1199.3 1078.0,1200.9 1080.0,1203.0 1082.1,1204.6 1084.1,1209.5 1086.2,1208.3 1088.2,1214.7 1090.2,1214.7 1092.3,1214.5 1094.3,1216.8 1096.3,1230.1 1098.4,1220.3 1100.4,1225.4 1102.5,1227.5 1104.5,1230.5 1106.5,1230.5 1108.6,1235.6 1110.6,1237.1 1112.6,1239.1 1114.7,1239.5 1116.7,1248.8 1118.7,1247.3 1120.8,1256.6 1122.8,1249.9 1124.9,1246.0 1126.9,1250.3 1128.9,1257.5 1131.0,1261.2 1133.0,1266.1 1135.0,1272.9 1137.1,1288.1 1139.1,1263.7 1141.1,1287.1 1143.2,1271.2 1145.2,1297.2 1147.3,1319.9 1149.3,1320.1 1151.3,1330.8 1153.4,1341.4 1155.4,1342.1 1157.4,1385.6 1159.5,1374.6 1161.5,1335.0 1163.6,1375.8 1165.6,1446.8 1167.6,1508.3 1169.7,1498.2 1171.7,1545.4 1173.7,1583.0 1175.8,1566.1 1177.8,1601.8 1179.8,1572.1 1181.9,1589.9 1183.9,1487.9 1186.0,1607.9 1188.0,1553.6 1190.0,1507.1 1192.1,1474.2 1194.1,1493.7 1196.1,1563.3 1198.2,1535.6 1200.2,1464.8 1202.2,1558.1 1204.3,1479.4 1206.3,1545.1 1208.4,1458.7 1210.4,1439.4 1212.4,1455.2 1214.5,1415.5 1216.5,1383.1 1218.5,1400.0 1220.6,1372.1 1222.6,1347.7 1224.7,1350.1 1226.7,1423.7 1228.7,1336.4 1230.8,1409.3 1232.8,1358.9 1234.8,1432.3 1236.9,1371.9 1238.9,1336.2 1240.9,1424.9 1243.0,1345.4 1245.0,1338.5 1247.1,1341.3 1249.1,1364.8 1251.1,1363.1 1253.2,1354.2 1255.2,1361.1 1257.2,1407.7 1259.3,1333.8 1261.3,1363.4 1263.3,1351.0 1265.4,1368.8 1267.4,1363.1 1269.5,1342.9 1271.5,1347.3 1273.5,1348.1 1275.6,1352.2 1277.6,1354.3 1279.6,1341.8 1281.7,1342.8 1283.7,1346.8 1285.8,1342.9 1287.8,1340.5 1289.8,1341.2 1291.9,1341.9 1293.9,1346.4 1295.9,1345.3 1298.0,1349.8 1300.0,1347.2 1302.0,1347.7 1304.1,1348.7 1306.1,1352.5 1308.2,1357.1 1310.2,1359.2 1312.2,1356.3 1314.3,1364.9 1316.3,1387.0 1318.3,1402.1 1320.4,1393.5 1322.4,1402.7 1324.4,1392.2 1326.5,1378.8 1328.5,1380.5 1330.6,1373.8 1332.6,1367.1 1334.6,1370.6 1336.7,1401.1 1338.7,1371.3 1340.7,1367.4 1342.8,1371.9 1344.8,1376.3 1346.9,1386.7 1348.9,1381.7 1350.9,1390.8 1353.0,1389.4 1355.0,1413.6 1357.0,1389.4 1359.1,1446.4 1361.1,1394.0 1363.1,1417.4 1365.2,1446.0 1367.2,1425.9 1369.3,1454.0 1371.3,1431.6 1373.3,1426.0 1375.4,1472.5 1377.4,1445.4 1379.4,1470.2 1381.5,1458.9 1383.5,1487.6 1385.5,1490.9 1387.6,1543.0 1389.6,1528.4 1391.7,1519.5 1393.7,1522.9 1395.7,1528.9 1397.8,1522.9 1399.8,1586.8 1401.8,1597.7 1403.9,1631.0 1405.9,1624.0 1408.0,1633.1 1410.0,1633.8 1412.0,1634.0 1414.1,1634.0 1416.1,1634.0 1418.1,1634.0 1420.2,1634.0 1422.2,1634.0 1424.2,1634.0 1426.3,1634.0 1428.3,1634.0 1430.4,1633.9 1432.4,1633.8 1434.4,1633.3 1436.5,1633.9 1438.5,1634.0 1440.5,1634.0 1442.6,1634.0 1444.6,1634.0 1446.6,1633.7 1448.7,1634.0 1450.7,1634.0 1452.8,1634.0 1454.8,1633.2 1456.8,1634.0 1458.9,1632.9 1460.9,1633.5 1462.9,1632.7 1465.0,1633.0 1467.0,1633.7 1469.0,1632.4 1471.1,1633.8 1473.1,1611.8 1475.2,1625.5 1477.2,1628.8 1479.2,1605.1 1481.3,1623.4 1483.3,1616.7 1485.3,1631.2 1487.4,1595.5 1489.4,1632.4 1491.5,1620.9 1493.5,1610.1 1495.5,1625.7 1497.6,1609.3 1499.6,1611.3 1501.6,1595.4 1503.7,1619.6 1505.7,1561.8 1507.7,1616.9 1509.8,1595.1 1511.8,1548.1 1513.9,1578.8 1515.9,1548.8 1517.9,1580.7 1520.0,1552.5 1522.0,1539.2 1524.0,1593.3 1526.1,1586.0 1528.1,1603.0 1530.1,1604.8 1532.2,1573.2 1534.2,1591.1 1536.3,1594.4 1538.3,1596.2 1540.3,1597.5 1542.4,1548.2 1544.4,1557.0 1546.4,1575.2 1548.5,1524.9 1550.5,1531.4 1552.6,1506.9 1554.6,1528.8 1556.6,1515.6 1558.7,1477.6 1560.7,1488.2 1562.7,1533.9 1564.8,1473.1 1566.8,1482.3 1568.8,1465.1 1570.9,1471.3 1572.9,1493.1 1575.0,1473.7 1577.0,1476.6 1579.0,1468.9 1581.1,1469.3 1583.1,1462.1 1585.1,1467.1 1587.2,1459.7 1589.2,1474.7 1591.2,1460.2 1593.3,1466.1 1595.3,1462.6 1597.4,1464.2 1599.4,1468.6 1601.4,1465.9 1603.5,1464.2 1605.5,1462.5 1607.5,1467.5 1609.6,1465.5 1611.6,1464.3 1613.7,1468.7 1615.7,1469.8 1617.7,1466.4 1619.8,1468.2 1621.8,1467.0 1623.8,1470.1 1625.9,1470.2 1627.9,1473.4 1629.9,1483.1 1632.0,1485.6 1634.0,1483.3 1636.1,1480.0 1638.1,1487.2 1640.1,1481.3 1642.2,1483.0 1644.2,1478.5 1646.2,1474.4 1648.3,1477.3 1650.3,1483.1 1652.3,1476.5 1654.4,1474.1 1656.4,1481.4 1658.5,1475.3 1660.5,1485.4 1662.5,1494.1 1664.6,1491.4 1666.6,1483.3 1668.6,1490.5 1670.7,1498.2 1672.7,1490.0 1674.8,1485.2 1676.8,1490.1 1678.8,1482.0 1680.9,1487.6 1682.9,1485.7 1684.9,1482.5 1687.0,1484.4 1689.0,1483.4 1691.0,1486.4 1693.1,1485.3 1695.1,1488.7 1697.2,1487.1 1699.2,1496.6 1701.2,1499.7 1703.3,1496.2 1705.3,1494.5 1707.3,1498.2 1709.4,1498.8 1711.4,1493.4 1713.4,1494.3 1715.5,1499.3 1717.5,1496.0 1719.6,1493.6 1721.6,1494.6 1723.6,1497.3 1725.7,1496.1 1727.7,1522.4 1729.7,1500.1 1731.8,1495.6 1733.8,1502.0 1735.9,1499.3 1737.9,1502.0 1739.9,1503.4 1742.0,1505.7 1744.0,1506.9 1746.0,1510.4 1748.1,1502.8 1750.1,1502.8 1752.1,1505.9 1754.2,1504.7 1756.2,1506.2 1758.3,1503.4 1760.3,1504.5 1762.3,1509.3 1764.4,1506.7 1766.4,1509.3 1768.4,1511.8 1770.5,1514.2 1772.5,1516.7 1774.5,1516.3 1776.6,1515.8 1778.6,1516.0 1780.7,1516.6 1782.7,1517.3 1784.7,1519.5 1786.8,1521.7 1788.8,1523.3 1790.8,1524.3 1792.9,1525.3 1794.9,1528.5 1797.0,1531.6 1799.0,1532.3 1801.0,1530.7 1803.1,1529.0 1805.1,1532.4 1807.1,1535.7 1809.2,1536.0 1811.2,1533.3 1813.2,1530.6 1815.3,1533.8 1817.3,1536.9 1819.4,1537.6 1821.4,1535.9 1823.4,1534.1 1825.5,1540.9 1827.5,1547.7 1829.5,1550.0 1831.6,1547.8 1833.6,1545.5 1835.6,1552.2 1837.7,1559.0 1839.7,1564.1 1841.8,1567.7 1843.8,1571.3 1845.8,1577.1 1847.9,1583.0 1849.9,1584.5 1851.9,1581.5 1854.0,1578.5 1856.0,1589.0 1858.1,1599.5 1860.1,1606.6 1862.1,1610.4 1864.2,1614.1 1866.2,1618.4 1868.2,1622.6 1870.3,1625.4 1872.3,1626.7 1874.3,1628.0 1876.4,1629.6 1878.4,1631.2 1880.5,1632.2 1882.5,1632.8 1884.5,1633.4 1886.6,1633.3 1888.6,1633.2 1890.6,1633.4 1892.7,1633.7 1894.7,1634.0 1896.7,1634.0 1898.8,1634.0 1900.8,1634.0 1902.9,1634.0 1904.9,1634.0 1906.9,1634.0 1909.0,1634.0 1911.0,1634.0 1913.0,1634.0 1915.1,1634.0 1917.1,1634.0 1919.2,1634.0 1921.2,1634.0 1923.2,1634.0 1925.3,1634.0 1927.3,1634.0 1929.3,1634.0 1931.4,1634.0 1933.4,1634.0 1935.4,1634.0 1937.5,1634.0 1939.5,1634.0 1941.6,1634.0 1943.6,1634.0 1945.6,1634.0 1947.7,1634.0 1949.7,1634.0 1951.7,1634.0 1953.8,1633.9 1955.8,1633.9 1957.8,1633.9 1959.9,1633.9 1961.9,1633.9 1964.0,1634.0 1966.0,1634.0 1968.0,1634.0 1970.1,1634.0 1972.1,1634.0 1974.1,1634.0 1976.2,1634.0 1978.2,1634.0 1980.3,1634.0 1982.3,1633.9 1984.3,1633.8 1986.4,1633.7 1988.4,1633.6 1990.4,1633.5 1992.5,1633.5 1994.5,1633.6 1996.5,1633.7 1998.6,1632.9 2000.6,1632.1 2002.7,1631.8 2004.7,1631.9 2006.7,1632.0 2008.8,1630.1 2010.8,1628.2 2012.8,1626.5 2014.9,1625.0 2016.9,1623.6 2018.9,1625.2 2021.0,1626.9 2023.0,1626.3 2025.1,1623.3 2027.1,1620.3 2029.1,1618.7 2031.2,1617.0 2033.2,1613.6 2035.2,1608.6 2037.3,1603.5 2039.3,1598.8 2041.4,1594.0 2043.4,1590.7 2045.4,1588.8 2047.5,1586.9 2049.5,1585.0 2051.5,1583.1 2053.6,1581.8 2055.6,1581.2 2057.6,1580.6 2059.7,1581.7 2061.7,1582.8 2063.8,1588.7 2065.8,1599.4 2067.8,1610.2 2069.9,1616.0 2071.9,1621.7 2073.9,1621.5 2076.0,1615.4 2078.0,1609.2 2080.0,1612.5 2082.1,1615.7 2084.1,1615.1 2086.2,1610.5 2088.2,1605.9 2090.2,1598.7 2092.3,1591.4 2094.3,1586.4 2096.3,1583.7 2098.4,1581.0 2100.4,1578.2 2102.5,1575.3 2104.5,1574.7 2106.5,1576.3 2108.6,1578.0 2110.6,1577.6 2112.6,1577.3 2114.7,1580.0 2116.7,1585.8 2118.7,1591.6 2120.8,1594.9 2122.8,1598.1 2124.9,1597.9 2126.9,1594.4 2128.9,1590.8 2131.0,1592.6 2133.0,1594.5 2135.0,1594.9 2137.1,1594.0 2139.1,1593.0 2141.1,1590.1 2143.2,1587.1 2145.2,1584.5 2147.3,1582.2 2149.3,1579.8 2151.3,1580.2 2153.4,1580.7 2155.4,1580.4 2157.4,1579.4 2159.5,1578.4 2161.5,1578.2 2163.6,1578.1 2165.6,1578.4 2167.6,1579.3 2169.7,1580.2 2171.7,1578.5 2173.7,1576.7 2175.8,1576.3 2177.8,1577.2 2179.8,1578.0 2181.9,1577.5 2183.9,1577.0 2186.0,1577.3 2188.0,1578.3 2190.0,1579.3 2192.1,1579.1 2194.1,1578.8 2196.1,1578.5 2198.2,1578.2 2200.2,1578.0 2202.2,1577.9 2204.3,1577.8 2206.3,1577.7 2208.4,1577.5 2210.4,1577.3 2212.4,1577.7 2214.5,1578.0 2216.5,1578.7 2218.5,1580.0 2220.6,1581.2 2222.6,1581.1 2224.7,1581.1 2226.7,1581.1 2228.7,1581.3 2230.8,1581.5 2232.8,1583.4 2234.8,1585.4 2236.9,1585.7 2238.9,1584.2 2240.9,1582.8 2243.0,1583.2 2245.0,1583.6 2247.1,1583.6 2249.1,1583.3 2251.1,1582.9 2253.2,1584.7 2255.2,1586.6 2257.2,1586.9 2259.3,1585.8 2261.3,1584.6 2263.3,1584.7 2265.4,1584.7 2267.4,1585.7 2269.5,1587.6 2271.5,1589.6 2273.5,1588.9"/>
</g>
<g font-size="74">
<text x="438.5" y="1755.5" text-anchor="middle">400</text><text x="642.2" y="1755.5" text-anchor="middle">600</text><text x="845.8" y="1755.5" text-anchor="middle">800</text><text x="1049.5" y="1755.5" text-anchor="middle">1000</text><text x="1253.2" y="1755.5" text-anchor="middle">1200</text><text x="1456.8" y="1755.5" text-anchor="middle">1400</text><text x="1660.5" y="1755.5" text-anchor="middle">1600</text><text x="1864.2" y="1755.5" text-anchor="middle">1800</text><text x="2067.8" y="1755.5" text-anchor="middle">2000</text><text x="2271.5" y="1755.5" text-anchor="middle">2200</text>
<text x="283" y="1657.0" text-anchor="end">0.0</text><text x="283" y="1344.9" text-anchor="end">0.5</text><text x="283" y="1032.8" text-anchor="end">1.0</text><text x="283" y="720.7" text-anchor="end">1.5</text><text x="283" y="408.6" text-anchor="end">2.0</text><text x="283" y="96.5" text-anchor="end">2.5</text>
</g>
<text x="974" y="1879" font-size="74.3">Wavelength, <tspan font-family="&quot;Noto Serif CJK SC&quot;,&quot;Liberation Serif&quot;,serif" font-size="66">λ</tspan> (nm)</text>
<text transform="translate(85.5,1413) rotate(-90)" font-size="74">Solar spectral irradiance, [W/(m<tspan font-size="50" dy="-34">2</tspan><tspan dy="34">nm)]</tspan></text>
<rect x="1203" y="127" width="1014" height="152" fill="#fff"/>
<rect x="1201" y="125.4" width="1017.8" height="2.5" fill="#000"/>
<rect x="1201" y="278" width="1017.8" height="2.7" fill="#4d4d4d"/>
<rect x="2216" y="127.9" width="2.8" height="150.1" fill="#b3b3b3"/>
<rect x="1201.1" y="125.4" width="2.8" height="155.3" fill="#444"/>
<rect x="1245" y="169" width="139" height="5.6" fill="#0000ff"/>
<rect x="1245" y="242.3" width="139" height="5.6" fill="#ff0000"/>
<g font-size="59.7">
<text x="1396.5" y="190.7">Atacama AM1.08</text>
<text x="1396.5" y="264.2">AM1.5 ASTM Standard Global</text>
</g>
</svg>
</body></html>
